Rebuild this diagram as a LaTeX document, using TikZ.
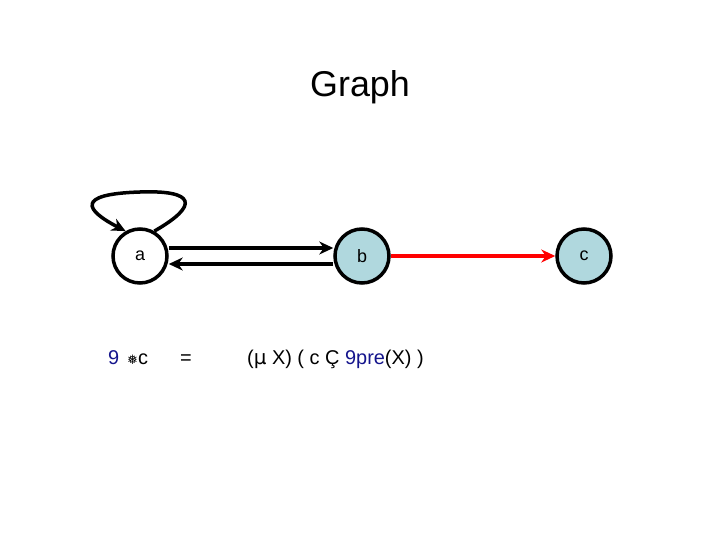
\documentclass[tikz,border=0pt]{standalone}
\usepackage{fontspec}
\setmainfont{Liberation Sans}
\newfontfamily\symf{DejaVu Sans}
\usetikzlibrary{arrows.meta}
\definecolor{nodeblue}{RGB}{176,216,222}
\definecolor{navy}{RGB}{20,20,140}
\begin{document}
\begin{tikzpicture}[x=1bp,y=-1bp,
  st/.style={circle,draw,line width=3.5bp,minimum size=54bp,inner sep=0,font=\fontsize{18}{20}\selectfont},
  ed/.style={line width=3.5bp,-{Stealth[length=14bp,width=13bp]}},
  tx/.style={font=\fontsize{20}{24}\selectfont,anchor=base west,inner sep=0}]
\useasboundingbox (0,0) rectangle (720,540);
\node[font=\fontsize{36}{42}\selectfont] (title) at (360,87) {Graph};
\node[st,fill=white] (a) at (140,256) {a};
\node[st,fill=nodeblue] (b) at (362,256) {b};
\node[st,fill=nodeblue] (c) at (584,256) {c};
\draw[ed] (a.60) .. controls (200,205) and (195,190) .. (140,192) .. controls (75,194) and (85,210) .. (a.120);
\draw[ed] ([yshift=8bp]a.east) -- ([yshift=8bp]b.west);
\draw[ed] ([yshift=-8bp]b.west) -- ([yshift=-8bp]a.east);
\draw[ed,red] (b) -- (c);
\node[tx,text=navy] (f1) at (108,364) {9};
\node[tx] (f2) at (127,364) {{\symf\fontsize{13}{14}\selectfont ❅}c};
\node[tx] (f3) at (180,364) {=};
\node[tx] (f4) at (247,364) {(\symf μ\normalfont\ X) ( c Ç \textcolor{navy}{9pre}(X) )};
\end{tikzpicture}
\end{document}
